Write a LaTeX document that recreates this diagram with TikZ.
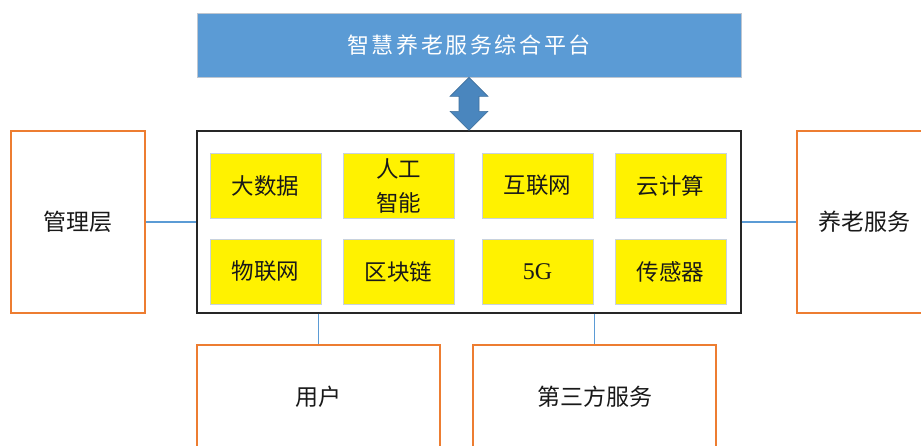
\documentclass[tikz,border=0pt]{standalone}
\usepackage{fontspec}
\setmainfont{Liberation Serif}
\newfontfamily\cjk{Noto Sans CJK SC}
\newfontfamily\cjktitle[LetterSpace=12]{Noto Sans CJK SC}
\usetikzlibrary{calc}
\definecolor{titleblue}{RGB}{91,155,213}
\definecolor{titleborder}{RGB}{190,198,208}
\definecolor{arrowfill}{RGB}{74,134,190}
\definecolor{arrowborder}{RGB}{65,113,156}
\definecolor{orangeline}{RGB}{237,125,49}
\definecolor{linkblue}{RGB}{91,155,213}
\definecolor{techborder}{RGB}{200,210,222}
\definecolor{textdark}{RGB}{25,25,25}
\tikzset{
  titlebox/.style={draw=titleborder, line width=0.8pt, fill=titleblue, minimum width=544pt, minimum height=64pt, inner sep=0pt, text=white, font=\fontsize{22}{24}\selectfont\cjktitle},
  corebox/.style={draw=black!85, line width=1.4pt, fill=white, minimum width=544pt, minimum height=182pt, inner sep=0pt},
  techbox/.style={draw=techborder, line width=0.9pt, fill=yellow, minimum width=111pt, minimum height=65pt, inner sep=0pt, align=center, text=textdark, font=\fontsize{22.5}{34}\selectfont\cjk},
  rolebox/.style={draw=orangeline, line width=1.4pt, fill=white, inner sep=0pt, text=textdark, font=\fontsize{23}{26}\selectfont\cjk},
  link/.style={draw=linkblue, line width=1.1pt},
  bigarrow/.style={fill=arrowfill, draw=arrowborder, line width=0.6pt}
}
\begin{document}
\begin{tikzpicture}[x=1pt,y=-1pt]
\clip (0,0) rectangle (921,445);
\fill[white] (0,0) rectangle (921,445);

% side and bottom boxes
\node[rolebox, minimum width=134pt, minimum height=182pt] (mgmt) at (78,222) {管理层};
\node[rolebox, minimum width=134pt, minimum height=182pt] (care) at (864,222) {养老服务};
\node[rolebox, minimum width=243pt, minimum height=104pt] (user) at (318.5,397) {用户};
\node[rolebox, minimum width=243pt, minimum height=104pt] (third) at (594.5,397) {第三方服务};

% platform and core
\node[titlebox] (platform) at (469,45) {智慧养老服务综合平台};
\node[corebox] (core) at (469,222) {};

% technology boxes
\node[techbox] (bigdata) at (265.5,185.5) {大数据};
\node[techbox] (ai) at (398.5,185.5) {人工\\智能};
\node[techbox] (internet) at (537.5,185.5) {互联网};
\node[techbox] (cloud) at (670.5,185.5) {云计算};
\node[techbox] (iot) at (265.5,271.5) {物联网};
\node[techbox] (chain) at (398.5,271.5) {区块链};
\node[techbox, font=\fontsize{24}{26}\selectfont\rmfamily] (fiveg) at (537.5,271.5) {5G};
\node[techbox] (sensor) at (670.5,271.5) {传感器};

% connectors
\draw[link] (mgmt.east) -- (core.west);
\draw[link] (core.east) -- (care.west);
\draw[link] (user.north |- core.south) -- (user.north);
\draw[link] (third.north |- core.south) -- (third.north);

% double arrow between platform and core
\coordinate (atop) at (platform.south);
\coordinate (abot) at (core.north);
\draw[bigarrow]
  (atop)
  -- ($(atop)+(19,19)$) -- ($(atop)+(10,19)$)
  -- ($(abot)+(10,-19)$) -- ($(abot)+(19,-19)$)
  -- (abot)
  -- ($(abot)+(-19,-19)$) -- ($(abot)+(-10,-19)$)
  -- ($(atop)+(-10,19)$) -- ($(atop)+(-19,19)$)
  -- cycle;
\end{tikzpicture}
\end{document}
